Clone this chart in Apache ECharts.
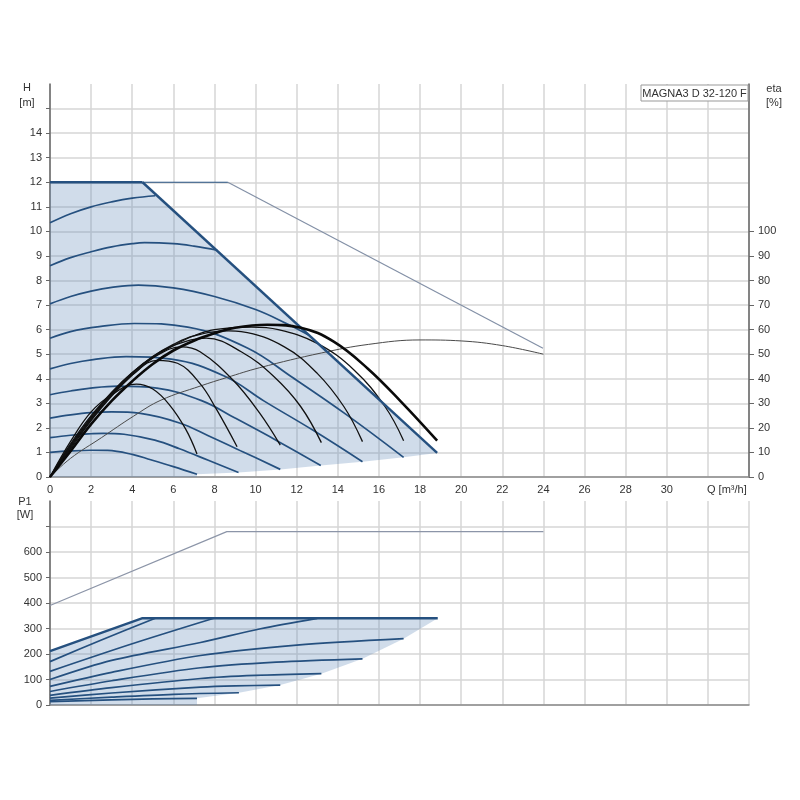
<!DOCTYPE html>
<html><head><meta charset="utf-8">
<script src="https://cdn.jsdelivr.net/npm/echarts@6/dist/echarts.min.js"></script>
<style>html,body{margin:0;padding:0;background:#fff}#c{width:800px;height:800px}</style>
</head><body><div id="c"></div>
<script>
// ---- tick labels ----
const qTickLabels = [0,2,4,6,8,10,12,14,16,18,20,22,24,26,28,30];
const qAxisName = 'Q [m³/h]';
const hTickLabels = [0,1,2,3,4,5,6,7,8,9,10,11,12,13,14];
const hTickMarks = [0,1,2,3,4,5,6,7,8,9,10,11,12,13,14,15];
const etaTickLabels = [0,10,20,30,40,50,60,70,80,90,100];
const p1TickLabels = [0,100,200,300,400,500,600];
const p1TickMarks = [0,100,200,300,400,500,600,700];
const titleText = 'MAGNA3 D 32-120 F';

// ---- head curves H [m] vs Q [m3/h] ----
const headLimit = [[0,12],[4.5,12]];
const headPowerLimit = [[4.5,12],[18.83,0.98]];
const headMaxFlat = [[4.5,12],[8.65,12]];
const headMaxThin = [[8.65,12],[23.98,5.24]];
const head10 = [[0,10.35],[1,10.72],[2,11.0],[3,11.2],[4,11.35],[5.12,11.45]];
const head9 = [[0,8.6],[1,8.93],[2,9.17],[3,9.37],[4,9.5],[4.6,9.54],[6,9.5],[7,9.4],[8.13,9.24]];
const head8 = [[0,7.05],[1,7.35],[2,7.57],[3,7.72],[4.3,7.81],[6,7.7],[8,7.35],[10,6.82],[11.5,6.25],[12.6,5.77]];
const head7 = [[0,5.65],[1,5.92],[2.4,6.12],[4.1,6.25],[6.7,6.1],[9.6,5.25],[11.8,4.05],[14.4,2.55],[17.2,0.8]];
const head6 = [[0,4.4],[1,4.62],[2.1,4.78],[3.7,4.9],[5.9,4.8],[8.5,4.1],[10.4,3.1],[12.8,1.9],[15.2,0.62]];
const head5 = [[0,3.35],[1,3.5],[1.8,3.6],[3.3,3.7],[5.2,3.62],[7.4,3.1],[9,2.4],[11.1,1.45],[13.17,0.47]];
const head4 = [[0,2.4],[1,2.53],[2,2.62],[3,2.65],[4.4,2.59],[6.3,2.2],[7.7,1.68],[9.4,1.02],[11.2,0.31]];
const head3 = [[0,1.6],[1,1.7],[2,1.76],[2.6,1.78],[3.6,1.74],[5.1,1.5],[6.3,1.15],[7.7,0.68],[9.17,0.18]];
const head2 = [[0,1.0],[1,1.06],[2,1.09],[2.8,1.08],[4,0.92],[4.9,0.7],[6,0.42],[7.15,0.11]];
const headArea = [[0,0],[0,12],[4.5,12],[18.83,0.98],[17.2,0.8],[15.2,0.62],[13.17,0.47],[11.2,0.31],[9.17,0.18],[7.15,0.11],[7.15,0]];

// ---- efficiency curves eta [%] ----
const eta1 = [[0,0],[1,14.5],[2,26.5],[3,33.5],[4.2,37.8],[5,35.8],[5.8,29.5],[6.6,19.5],[7.15,9.4]];
const eta2 = [[0,0],[1,13.5],[2,25],[3,34],[4,41.5],[5.2,47.5],[6.2,46.3],[7.3,38],[8.1,27.5],[9.1,12.3]];
const eta3 = [[0,0],[1,13],[2,24.5],[3,34.5],[4,42.5],[5,48.5],[6.4,53],[7.3,51],[8.9,39.5],[10.2,26],[11.2,13]];
const eta4 = [[0,0],[1,12.5],[2,24],[3,34],[4,42.5],[5,49],[6,53.5],[7.6,56.5],[9.3,51],[10.9,40.8],[12.2,28.6],[13.2,14]];
const eta5 = [[0,0],[1,12],[2,23.5],[3,33.5],[4,42],[5,49],[6,54],[7,57.5],[8.7,59.5],[9.3,59.2],[11.4,53],[13,42.2],[14.3,28.6],[15.2,14.4]];
const eta6 = [[0,0],[1,11.5],[2,23],[3,33],[4,41.5],[5,48.5],[6,53.5],[7,57.5],[8,60],[9.8,61],[11.1,60],[13,54.4],[14.8,43.5],[16.3,28.6],[17.2,14.8]];
const etaMain = [[0,0],[1,10.5],[2,21.5],[3,31],[4,39],[5,46],[6,51.5],[7,55.5],[8,58.5],[9,60.8],[10.57,62],[12.2,60.8],[13.8,55.1],[15.45,44.2],[17.07,30.7],[18.83,14.8]];
const etaMax = [[0,0],[1,7.6],[2.5,16],[4.07,24.8],[5.4,31.3],[7.3,37],[8.6,40.5],[10.2,44.5],[13.2,50.5],[15.5,54],[18,55.8],[20,55.4],[22,53.5],[24,50]];

// ---- power curves P1 [W] ----
const p1MaxThin = [[0,390],[8.6,680],[24,680]];
const p1Limit = [[0,211],[4.47,340],[18.86,340]];
const p1c10 = [[0,170],[2.5,255],[5.12,340]];
const p1c9 = [[0,132],[4,240],[7.97,340]];
const p1c8 = [[0,100],[3,175],[7.32,245],[10.24,299],[13,340]];
const p1c7 = [[0,73],[3,128],[7.32,194],[12,235],[17.2,260]];
const p1c6 = [[0,53],[3,95],[7.32,146],[11,168],[15.2,181]];
const p1c5 = [[0,38],[3,68],[7.32,104],[10,116],[13.2,123]];
const p1c4 = [[0,27],[3,47],[7.32,70],[9,75],[11.2,78]];
const p1c3 = [[0,18],[3,31],[6,42],[9.19,48]];
const p1c2 = [[0,13],[3,20],[5,24],[7.15,26]];
const p1Area = [[0,0],[0,211],[4.47,340],[18.86,340],[17.2,260],[15.2,181],[13.2,123],[11.2,78],[9.19,48],[7.15,26],[7.15,0]];

// ---- styles ----
const BLUE = '#25507f';
const FILL = 'rgba(100,140,185,0.3)';
const GRID = '#d6d6d6';
const TXT = '#333';
const FONT = 'Liberation Sans, Arial, sans-serif';

function lineS(data, xi, yi, color, width, smooth, z) {
  return {type:'line', xAxisIndex:xi, yAxisIndex:yi, data:data, showSymbol:false, symbol:'none',
    smooth:smooth, silent:true, z:z, animation:false,
    lineStyle:{color:color, width:width}};
}
function areaS(pts, xi, yi) {
  return {type:'custom', xAxisIndex:xi, yAxisIndex:yi, data:[[0,0]], silent:true, z:1, animation:false,
    renderItem:function(params, api){
      return {type:'polygon', shape:{points: pts.map(p=>api.coord(p))}, style:{fill:FILL}};
    }};
}

const chart = echarts.init(document.getElementById('c'), null, {renderer:'canvas'});
const xBase = {type:'value', min:0, max:34, interval:2,
  splitLine:{show:true, lineStyle:{color:GRID, width:1.5}},
  axisLine:{show:true, onZero:false, lineStyle:{color:'#8a8a8a', width:1.5}},
  axisTick:{show:false}};

const option = {
  animation:false,
  backgroundColor:'#fff',
  grid:[
    {left:50, right:51, top:84, height:393, containLabel:false},
    {left:50, right:51, top:501, height:204, containLabel:false}
  ],
  xAxis:[
    Object.assign({}, xBase, {gridIndex:0,
      name:qAxisName, nameLocation:'end', nameGap:-42,
      nameTextStyle:{color:TXT, fontSize:11, fontFamily:FONT, align:'left', verticalAlign:'top', padding:[7,0,0,0]},
      axisLabel:{show:true, color:TXT, fontSize:11, fontFamily:FONT, margin:7, customValues:qTickLabels}}),
    Object.assign({}, xBase, {gridIndex:1, axisLabel:{show:false}})
  ],
  yAxis:[
    {type:'value', gridIndex:0, min:0, max:16, interval:1, position:'left',
      splitLine:{show:true, lineStyle:{color:GRID, width:1.5}},
      axisLine:{show:true, lineStyle:{color:'#666', width:1.5}},
      axisTick:{show:true, length:4, customValues:hTickMarks, lineStyle:{color:'#666'}},
      axisLabel:{color:TXT, fontSize:11, fontFamily:FONT, margin:8, customValues:hTickLabels}},
    {type:'value', gridIndex:0, min:0, max:160, interval:10, position:'right',
      splitLine:{show:false},
      axisLine:{show:true, lineStyle:{color:'#666', width:1.5}},
      axisTick:{show:true, length:5, customValues:etaTickLabels, lineStyle:{color:'#666'}},
      axisLabel:{color:TXT, fontSize:11, fontFamily:FONT, margin:9, customValues:etaTickLabels}},
    {type:'value', gridIndex:1, min:0, max:800, interval:100, position:'left',
      splitLine:{show:true, lineStyle:{color:GRID, width:1.5}},
      axisLine:{show:true, lineStyle:{color:'#666', width:1.5}},
      axisTick:{show:true, length:4, customValues:p1TickMarks, lineStyle:{color:'#666'}},
      axisLabel:{color:TXT, fontSize:11, fontFamily:FONT, margin:8, customValues:p1TickLabels}}
  ],
  graphic:[
    {type:'text', x:27, y:88, style:{text:'H', fill:TXT, font:'11px '+FONT, align:'center', verticalAlign:'middle'}},
    {type:'text', x:27, y:103, style:{text:'[m]', fill:TXT, font:'11px '+FONT, align:'center', verticalAlign:'middle'}},
    {type:'text', x:774, y:89, style:{text:'eta', fill:TXT, font:'11px '+FONT, align:'center', verticalAlign:'middle'}},
    {type:'text', x:774, y:103, style:{text:'[%]', fill:TXT, font:'11px '+FONT, align:'center', verticalAlign:'middle'}},
    {type:'text', x:25, y:502, style:{text:'P1', fill:TXT, font:'11px '+FONT, align:'center', verticalAlign:'middle'}},
    {type:'text', x:25, y:515, style:{text:'[W]', fill:TXT, font:'11px '+FONT, align:'center', verticalAlign:'middle'}},
    {type:'rect', x:641, y:85, shape:{width:107, height:16}, style:{fill:'#fff', stroke:'#999', lineWidth:1}, z:100},
    {type:'text', x:694.5, y:93.5, z:101, style:{text:titleText, fill:TXT, font:'11px '+FONT, align:'center', verticalAlign:'middle'}}
  ],
  series:[
    areaS(headArea, 0, 0),
    lineS(headMaxThin, 0, 0, '#8390a6', 1.2, false, 3),
    lineS(headMaxFlat, 0, 0, BLUE, 1.2, false, 3),
    lineS(head10, 0, 0, BLUE, 1.7, 0.4, 3),
    lineS(head9, 0, 0, BLUE, 1.7, 0.4, 3),
    lineS(head8, 0, 0, BLUE, 1.7, 0.4, 3),
    lineS(head7, 0, 0, BLUE, 1.7, 0.4, 3),
    lineS(head6, 0, 0, BLUE, 1.7, 0.4, 3),
    lineS(head5, 0, 0, BLUE, 1.7, 0.4, 3),
    lineS(head4, 0, 0, BLUE, 1.7, 0.4, 3),
    lineS(head3, 0, 0, BLUE, 1.7, 0.4, 3),
    lineS(head2, 0, 0, BLUE, 1.7, 0.4, 3),
    lineS(headLimit, 0, 0, BLUE, 2.4, false, 5),
    lineS(headPowerLimit, 0, 0, BLUE, 2.4, false, 5),
    lineS(etaMax, 0, 1, '#4a4a4a', 1, 0.4, 4),
    lineS(eta1, 0, 1, '#111', 1.3, 0.4, 4),
    lineS(eta2, 0, 1, '#111', 1.3, 0.4, 4),
    lineS(eta3, 0, 1, '#111', 1.3, 0.4, 4),
    lineS(eta4, 0, 1, '#111', 1.3, 0.4, 4),
    lineS(eta5, 0, 1, '#111', 1.3, 0.4, 4),
    lineS(eta6, 0, 1, '#111', 1.3, 0.4, 4),
    lineS(etaMain, 0, 1, '#0a0a0a', 2.6, 0.4, 6),
    areaS(p1Area, 1, 2),
    lineS(p1MaxThin, 1, 2, '#8c95a8', 1.2, false, 3),
    lineS(p1c10, 1, 2, BLUE, 1.7, 0.3, 3),
    lineS(p1c9, 1, 2, BLUE, 1.7, 0.3, 3),
    lineS(p1c8, 1, 2, BLUE, 1.7, 0.3, 3),
    lineS(p1c7, 1, 2, BLUE, 1.7, 0.3, 3),
    lineS(p1c6, 1, 2, BLUE, 1.7, 0.3, 3),
    lineS(p1c5, 1, 2, BLUE, 1.7, 0.3, 3),
    lineS(p1c4, 1, 2, BLUE, 1.7, 0.3, 3),
    lineS(p1c3, 1, 2, BLUE, 1.7, 0.3, 3),
    lineS(p1c2, 1, 2, BLUE, 1.7, 0.3, 3),
    lineS(p1Limit, 1, 2, BLUE, 2.4, false, 5)
  ]
};
chart.setOption(option);
</script>
</body></html>
